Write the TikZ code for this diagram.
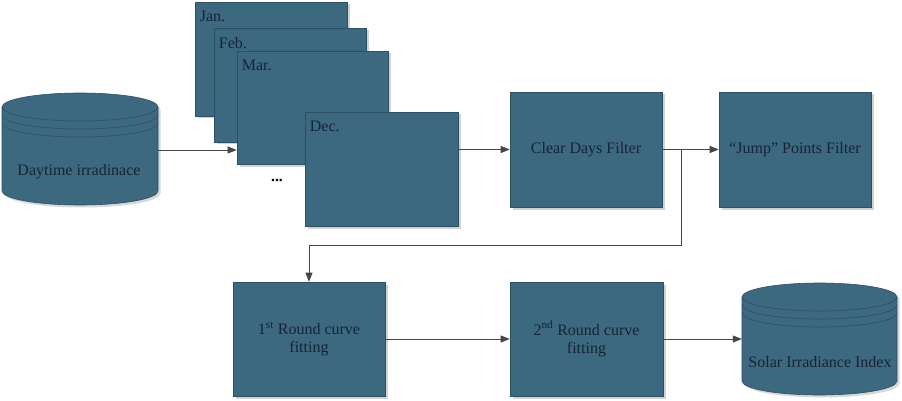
\documentclass[tikz,border=0pt]{standalone}
\usepackage{fontspec}
\setmainfont{Liberation Serif}
\usetikzlibrary{arrows.meta,shadows,calc}
\definecolor{boxfill}{RGB}{60,104,128}
\definecolor{boxline}{RGB}{45,80,100}
\definecolor{txt}{RGB}{22,36,54}
\definecolor{conn}{RGB}{70,70,70}
\tikzset{
  stepbox/.style={draw=boxline, line width=0.6pt, fill=boxfill, inner sep=0pt,
    drop shadow={shadow xshift=2.5pt, shadow yshift=-2.5pt, fill=black!35, opacity=0.5},
    text=txt, font=\fontsize{16}{18.5}\selectfont, align=center},
  monthlbl/.style={anchor=north west, inner sep=0pt, text=txt, font=\fontsize{16}{18.5}\selectfont},
  arr/.style={draw=conn, line width=0.8pt, -{Triangle[length=9pt,width=7pt]}},
  dblbl/.style={inner sep=0pt, text=txt, font=\fontsize{16}{18.5}\selectfont}
}
% cylinder: #1 x0, #2 x1, #3 top, #4 bottom
\newcommand{\dbcyl}[4]{%
  \pgfmathsetmacro{\rx}{(#2-#1)/2}%
  \pgfmathsetmacro{\ty}{#3+14}%
  \pgfmathsetmacro{\by}{#4-14}%
  \fill[black!30, opacity=0.5, shift={(2.5,2.5)}] (#1,\ty) -- (#1,\by) arc[start angle=180, end angle=0, x radius=\rx, y radius=14]
     -- (#2,\ty) arc[start angle=0, end angle=-180, x radius=\rx, y radius=14] -- cycle;
  \filldraw[fill=boxfill, draw=boxline, line width=0.6pt] (#1,\ty) -- (#1,\by) arc[start angle=180, end angle=0, x radius=\rx, y radius=14]
     -- (#2,\ty) arc[start angle=0, end angle=-180, x radius=\rx, y radius=14] -- cycle;
  \draw[boxline, line width=0.6pt] (#1,\ty) arc[start angle=180, end angle=0, x radius=\rx, y radius=14];
  \draw[boxline, line width=0.6pt] (#1,\ty+8) arc[start angle=180, end angle=0, x radius=\rx, y radius=14];
  \draw[boxline, line width=0.6pt] (#1,\ty+16) arc[start angle=180, end angle=0, x radius=\rx, y radius=14];
}
\begin{document}
\begin{tikzpicture}[x=1pt, y=-1pt]
\useasboundingbox (0,0) rectangle (902,401);
\fill[white] (0,0) rectangle (902,401);

% source database
\dbcyl{2}{158}{93}{205}
\node[inner sep=0pt, minimum width=156pt, minimum height=112pt] (db1) at (80,149) {};
\node[dblbl] (db1t) at (79,172) {Daytime irradinace};

% month boxes
\node[stepbox, minimum width=152pt, minimum height=114pt] (jan) at (271,59) {};
\node[monthlbl] (janl) at ($(jan.north west)+(5,9)$) {Jan.};
\node[stepbox, minimum width=152pt, minimum height=114pt] (feb) at (290,85) {};
\node[monthlbl] (febl) at ($(feb.north west)+(5,9)$) {Feb.};
\node[stepbox, minimum width=151pt, minimum height=113pt] (mar) at (312.5,107.5) {};
\node[monthlbl] (marl) at ($(mar.north west)+(5,9)$) {Mar.};
\node[stepbox, minimum width=153pt, minimum height=114pt] (dec) at (381.5,169) {};
\node[monthlbl] (decl) at ($(dec.north west)+(5,9)$) {Dec.};
\node[inner sep=0pt, font=\fontsize{15.5}{18}\selectfont\bfseries, text=black] (dots) at (277,180) {...};

% filters
\node[stepbox, minimum width=152pt, minimum height=115pt] (clear) at (586,149.5) {Clear Days Filter};
\node[stepbox, minimum width=152pt, minimum height=115pt] (jump) at (795,149.5) {``Jump'' Points Filter};

% curve fitting
\node[stepbox, minimum width=152pt, minimum height=114pt] (r1) at (309,339) {1\textsuperscript{st} Round curve\\fitting};
\node[stepbox, minimum width=153pt, minimum height=114pt] (r2) at (586.5,339) {2\textsuperscript{nd} Round curve\\fitting};

% output database
\dbcyl{742}{897}{283}{395}
\node[inner sep=0pt, minimum width=155pt, minimum height=112pt] (db2) at (819.5,339) {};
\node[dblbl] (db2t) at (820,362) {Solar Irradiance Index};

% connectors
\draw[arr] (db1.east |- 0,150) coordinate (a0) -- (a0 -| mar.west);
\draw[arr] (clear.west -| dec.east) -- (clear.west);
\draw[arr] (clear.east) -- (jump.west);
\coordinate (br) at (681,149.5);
\draw[arr] (br) -- (681,245) -| (r1.north);
\draw[arr] (r1.east) -- (r2.west);
\draw[arr] (r2.east) -- (r2.east -| db2.west);
\end{tikzpicture}
\end{document}
